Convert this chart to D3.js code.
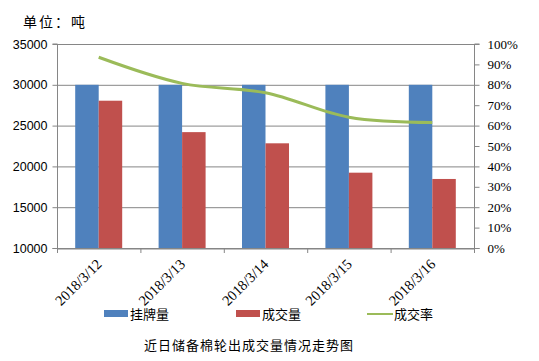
<!DOCTYPE html>
<html><head><meta charset="utf-8">
<script src="https://cdn.jsdelivr.net/npm/d3@7"></script>
<style>body{margin:0;background:#fff}svg{display:block}</style>
</head><body>
<script>
const categories = ["2018/3/12","2018/3/13","2018/3/14","2018/3/15","2018/3/16"];
const listed = [30000, 30000, 30000, 30000, 30000];
const traded = [28050, 24200, 22830, 19230, 18460];
const rate = [93.5, 80.7, 76.1, 64.1, 61.5];
const leftTicks = [10000, 15000, 20000, 25000, 30000, 35000];
const rightTicks = [0,10,20,30,40,50,60,70,80,90,100];
const seriesNames = ["挂牌量","成交量","成交率"];
const colors = ["#4F81BD","#C0504D","#9BBB59"];

const W = 539, H = 361;
const svg = d3.select("body").append("svg").attr("width", W).attr("height", H);
const L = 57, R = 474, T = 44, B = 248;

const x0 = d3.scaleBand().domain(categories).range([L, R]).padding(0);
const x1 = d3.scaleBand().domain([0,1]).range([0, x0.bandwidth()]).paddingInner(0).paddingOuter(0.775);
const yL = d3.scaleLinear().domain([10000, 35000]).range([B, T]);
const yR = d3.scaleLinear().domain([0, 100]).range([B, T]);

// gridlines
svg.append("g").selectAll("line").data(leftTicks).join("line")
  .attr("x1", L).attr("x2", R).attr("y1", d => yL(d)+0.5).attr("y2", d => yL(d)+0.5)
  .attr("stroke", "#868686").attr("stroke-width", 1);

// bars
const g = svg.append("g");
categories.forEach((c, i) => {
  [listed[i], traded[i]].forEach((v, j) => {
    g.append("rect").attr("x", x0(c) + x1(j)).attr("width", x1.bandwidth())
      .attr("y", yL(v)).attr("height", B - yL(v)).attr("fill", colors[j]);
  });
});

// line
const line = d3.line().x((d, i) => x0(categories[i]) + x0.bandwidth()/2).y(d => yR(d)).curve(d3.curveCatmullRom.alpha(0.5));
svg.append("path").datum(rate).attr("d", line).attr("fill", "none")
  .attr("stroke", colors[2]).attr("stroke-width", 3).attr("stroke-linejoin","round");

// left axis
const axL = svg.append("g").attr("transform", `translate(${L+0.5},0)`)
  .call(d3.axisLeft(yL).tickValues(leftTicks).tickSize(5).tickPadding(5).tickFormat(d3.format("d")));
axL.selectAll("path,line").attr("stroke", "#868686");
axL.select(".domain").attr("d", `M-5,${T}H0V${B+0.5}H-5`);
axL.selectAll("text").attr("font-family", "Liberation Sans, Arial, sans-serif").attr("font-size", 12.5).attr("fill", "#000");

// right axis
const axR = svg.append("g").attr("transform", `translate(${R+0.5},0)`)
  .call(d3.axisRight(yR).tickValues(rightTicks).tickSize(5).tickPadding(8).tickFormat(d => d + "%"));
axR.selectAll("path,line").attr("stroke", "#868686");
axR.select(".domain").attr("d", `M5,${T}H0V${B+0.5}H5`);
axR.selectAll("text").attr("font-family", "Liberation Serif, Times New Roman, serif").attr("font-size", 13).attr("fill", "#000");

// bottom axis
const axB = svg.append("g").attr("transform", `translate(0,${B+0.5})`)
  .call(d3.axisBottom(x0).tickSize(0).tickFormat(""));
axB.select(".domain").attr("stroke", "#868686");
svg.append("g").selectAll("line").data(d3.range(categories.length + 1)).join("line")
  .attr("x1", i => L + i * x0.step() + 0.5).attr("x2", i => L + i * x0.step() + 0.5)
  .attr("y1", B).attr("y2", B + 5).attr("stroke", "#868686");
svg.append("g").selectAll("text").data(categories).join("text")
  .attr("transform", d => `translate(${x0(d) + x0.bandwidth()/2 + 4},${B + 17}) rotate(-45)`)
  .attr("text-anchor", "end").attr("font-family", "Liberation Serif, Times New Roman, serif")
  .attr("font-size", 14.5).attr("fill", "#000").text(d => d);

// legend
const legX = [104, 236, 367];
seriesNames.forEach((n, i) => {
  if (i < 2) svg.append("rect").attr("x", legX[i]).attr("y", 310).attr("width", 24).attr("height", 7).attr("fill", colors[i]);
  else svg.append("line").attr("x1", legX[i]).attr("x2", legX[i] + 26).attr("y1", 314).attr("y2", 314).attr("stroke", colors[i]).attr("stroke-width", 2);
  svg.append("text").attr("x", legX[i] + (i < 2 ? 26 : 27)).attr("y", 319)
    .attr("font-family", "Noto Sans CJK SC, sans-serif").attr("font-size", 13).attr("fill", "#000").text(n);
});

// unit and title
svg.append("text").attr("x", 23).attr("y", 27).attr("font-family", "Noto Sans CJK SC, sans-serif")
  .attr("font-size", 14).attr("letter-spacing", 2).attr("fill", "#000").text("单位：吨");
svg.append("text").attr("x", 249).attr("y", 350).attr("text-anchor", "middle").attr("font-family", "Noto Sans CJK SC, sans-serif")
  .attr("font-size", 13).attr("letter-spacing", 1).attr("fill", "#000").text("近日储备棉轮出成交量情况走势图");
</script>
</body></html>
